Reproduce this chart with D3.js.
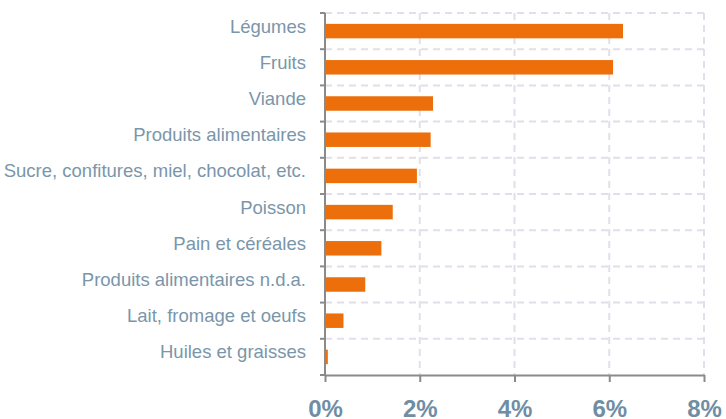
<!DOCTYPE html>
<html>
<head>
<meta charset="utf-8">
<script src="https://cdn.jsdelivr.net/npm/d3@7"></script>
<style>
  body { margin: 0; background: #fff; }
  .grid line { stroke: #e2deec; stroke-width: 2; stroke-dasharray: 7 5; }
  .axis path, .axis line { stroke: #8a8a8a; stroke-width: 2; }
  .y-axis text { fill: #7a96aa; font-family: "Liberation Sans", Arial, sans-serif; font-size: 18.5px; }
  .x-axis text { fill: #6f8ea5; font-family: "Liberation Sans", Arial, sans-serif; font-size: 24px; font-weight: bold; }
  .bar { fill: #ec6f0b; }
</style>
</head>
<body>
<div id="chart"></div>
<script>
// Categories and shares (%)
const categories = [
    "Légumes", "Fruits", "Viande", "Produits alimentaires",
    "Sucre, confitures, miel, chocolat, etc.", "Poisson", "Pain et céréales",
    "Produits alimentaires n.d.a.", "Lait, fromage et oeufs", "Huiles et graisses"
];
const values = [6.29, 6.08, 2.28, 2.23, 1.94, 1.43, 1.19, 0.85, 0.39, 0.06];
const xTicks = [0, 2, 4, 6, 8];

const width_raw = 726, height_raw = 419;
const margin = {top: 13, right: 22, bottom: 44, left: 325};
let width = width_raw - margin.left - margin.right,
    height = height_raw - margin.top - margin.bottom;

let svg = d3.select("#chart")
    .append("svg")
    .attr("width", width_raw)
    .attr("height", height_raw)
    .append("g")
    .attr("transform", `translate(${margin.left}, ${margin.top})`);

// Scales
let xScale = d3.scaleLinear()
    .domain([0, 8])
    .range([0, width]);

let yScale = d3.scaleBand()
    .domain(categories)
    .range([0, height])
    .paddingInner(0.6)
    .paddingOuter(0.3);

// Band boundaries for the horizontal grid
let step = yScale.step();
let bounds = d3.range(categories.length).map(i => i * step);

// Grid lines
let grid = svg.append("g").attr("class", "grid");
grid.selectAll(".hgrid")
    .data(bounds)
    .enter()
    .append("line")
    .attr("x1", 0)
    .attr("x2", width)
    .attr("y1", d => d)
    .attr("y2", d => d);
grid.selectAll(".vgrid")
    .data(xTicks.slice(1))
    .enter()
    .append("line")
    .attr("x1", d => xScale(d))
    .attr("x2", d => xScale(d))
    .attr("y1", 0)
    .attr("y2", height);

// Bars
svg.selectAll(".bar")
    .data(values)
    .enter()
    .append("rect")
    .attr("class", "bar")
    .attr("x", 0)
    .attr("y", (d, i) => yScale(categories[i]))
    .attr("width", d => xScale(d))
    .attr("height", yScale.bandwidth());

// X axis
let xAxis = d3.axisBottom(xScale)
    .tickValues(xTicks)
    .tickFormat(d => d + "%")
    .tickSize(7)
    .tickSizeOuter(0);

svg.append("g")
    .attr("class", "axis x-axis")
    .attr("transform", `translate(0, ${height})`)
    .call(xAxis)
    .selectAll("text")
    .attr("dy", 0)
    .attr("y", 42);

// Y axis: ticks at band boundaries, labels in the band
let yGroup = svg.append("g")
    .attr("class", "axis y-axis");

yGroup.append("line")
    .attr("x1", 0).attr("x2", 0)
    .attr("y1", 0).attr("y2", height);

yGroup.selectAll(".ytick")
    .data(bounds.concat([height]))
    .enter()
    .append("line")
    .attr("x1", -5)
    .attr("x2", 0)
    .attr("y1", d => d)
    .attr("y2", d => d);

yGroup.selectAll(".ylabel")
    .data(categories)
    .enter()
    .append("text")
    .attr("x", -19)
    .attr("y", d => yScale(d) + yScale.bandwidth() / 2 - 5)
    .attr("dy", "0.35em")
    .attr("text-anchor", "end")
    .text(d => d);
</script>
</body>
</html>
